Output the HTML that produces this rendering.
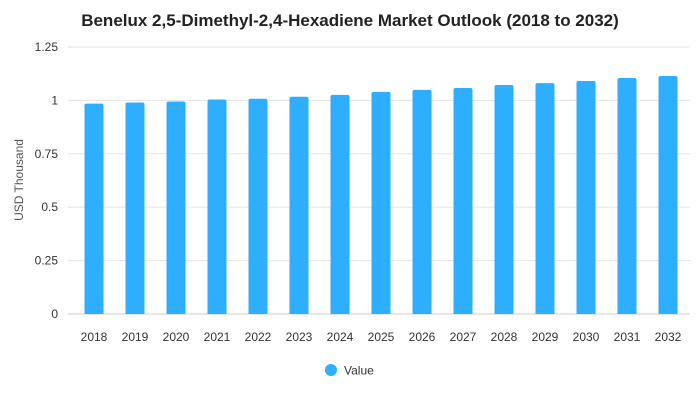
<!DOCTYPE html>
<html><head><meta charset="utf-8"><style>
body{margin:0;background:#fff;font-family:"Liberation Sans",sans-serif}
</style></head><body>
<svg id="c" width="700" height="400" xmlns="http://www.w3.org/2000/svg">
<text x="350" y="26" text-anchor="middle" font-size="17" font-weight="bold" fill="#222">Benelux 2,5-Dimethyl-2,4-Hexadiene Market Outlook (2018 to 2032)</text>
<text transform="translate(23,180) rotate(-90)" text-anchor="middle" font-size="12" fill="#555">USD Thousand</text>
<g id="grid"></g><g id="bars"></g><g id="xl"></g>
<g>
<circle cx="331" cy="370" r="6" fill="#2eaeff"/>
<text x="344" y="374.5" font-size="12" fill="#333">Value</text>
</g>
</svg>
<script>
const categories=["2018","2019","2020","2021","2022","2023","2024","2025","2026","2027","2028","2029","2030","2031","2032"];
const values=[0.985,0.99,0.995,1.004,1.008,1.017,1.026,1.04,1.049,1.058,1.072,1.081,1.091,1.105,1.114];
const ticks=[0,0.25,0.5,0.75,1,1.25];
const tickLabels=["0","0.25","0.5","0.75","1","1.25"];
const NS="http://www.w3.org/2000/svg";
const x0=73.5,x1=688.5,y0=314,yTop=47,maxV=1.25;
const y=v=>y0-(y0-yTop)*v/maxV;
const band=(x1-x0)/categories.length;
const xc=i=>x0+band*(i+0.5);
function mk(t,a,p){const e=document.createElementNS(NS,t);for(const k in a)e.setAttribute(k,a[k]);p.appendChild(e);return e;}
const g=document.getElementById('grid');
ticks.forEach((t,i)=>{
 const l=mk('line',{x1:68,x2:690,y1:y(t),y2:y(t),stroke:i==0?'#ccc':'#e5e5e5','stroke-width':1},g);
 
 
 const tx=mk('text',{x:58,y:y(t)+4,'text-anchor':'end','font-size':12,fill:'#333'},g);
 tx.textContent=tickLabels[i];
 
 
});
const b=document.getElementById('bars'),xl=document.getElementById('xl');
values.forEach((v,i)=>{
 const w=19,top=y(v);
 const r=mk('path',{d:`M${xc(i)-w/2},${y0}V${top+2}q0,-2 2,-2h${w-4}q2,0 2,2V${y0}Z`,fill:'#2eaeff'},b);
 
 
 const t=mk('text',{x:xc(i),y:341,'text-anchor':'middle','font-size':12,fill:'#333'},xl);
 t.textContent=categories[i];
 
 
});
</script>
</body></html>
